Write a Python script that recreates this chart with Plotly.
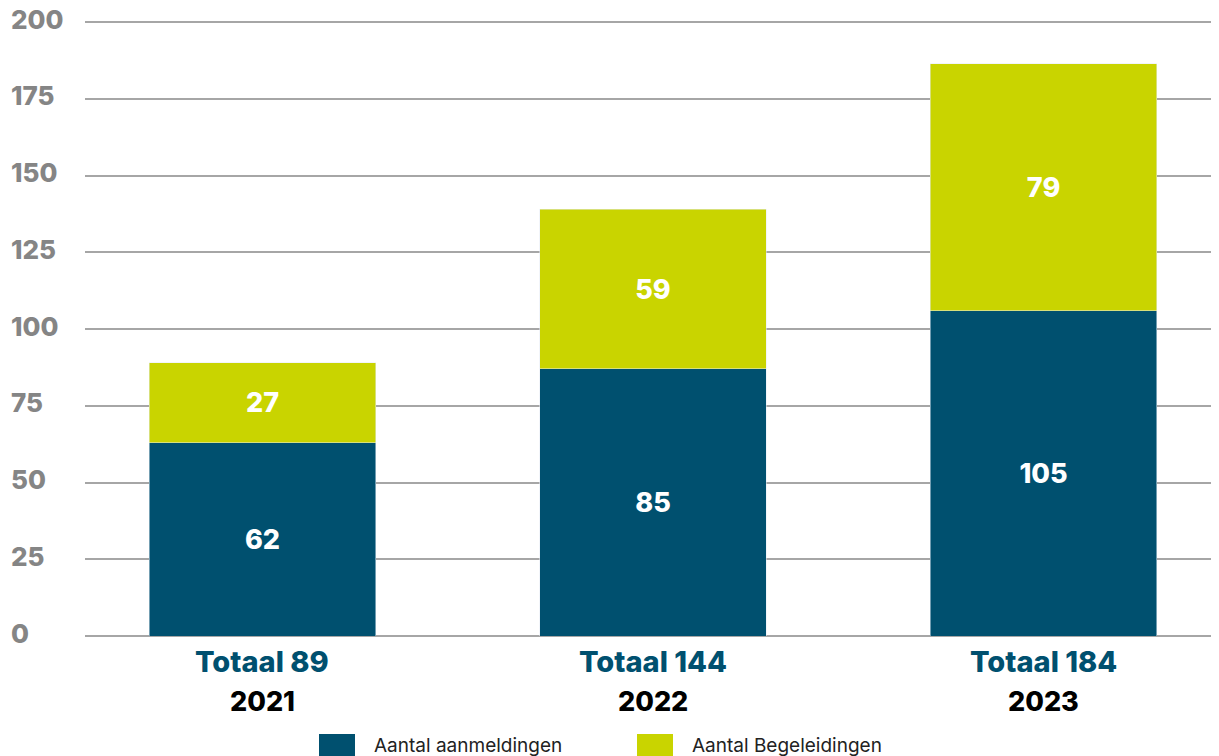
import plotly.graph_objects as go

# data
jaren = ["2021", "2022", "2023"]
aanmeldingen = [63, 87, 106]          # bar heights as drawn
begeleidingen = [26, 52, 80.5]
aanmeldingen_label = [62, 85, 105]    # printed values
begeleidingen_label = [27, 59, 79]
y_ticks = [0, 25, 50, 75, 100, 125, 150, 175, 200]
reeksen = ["Aantal aanmeldingen", "Aantal Begeleidingen"]

BLAUW = "#00506f"
GROEN = "#c9d400"
GRIJS = "#858585"
FONT = "Inter"

# page body has an 8px margin, so the figure is 8px smaller
OFF = 8
W, H = 1219 - OFF, 756 - OFF
L, R, T, B = 85 - OFF, 0, 19 - OFF, 120
pw, ph = W - L - R, H - T - B


def px_x(x):
    # window pixel -> paper
    return (x - OFF - L) / pw


def px_y(y):
    return (H - B - (y - OFF)) / ph


fig = go.Figure()
fig.add_trace(go.Bar(
    x=jaren, y=aanmeldingen, name=reeksen[0], marker_color=BLAUW,
    text=[str(v) for v in aanmeldingen_label], textposition="inside",
    insidetextanchor="middle",
    textfont=dict(family=FONT, size=27, color="white", weight=800),
    width=0.58, showlegend=False,
))
fig.add_trace(go.Bar(
    x=jaren, y=begeleidingen, name=reeksen[1], marker_color=GROEN,
    text=[str(v) for v in begeleidingen_label], textposition="inside",
    insidetextanchor="middle",
    textfont=dict(family=FONT, size=27, color="white", weight=800),
    width=0.58, showlegend=False,
))

annotations = []
# y-as labels (links uitgelijnd)
for t in y_ticks:
    annotations.append(dict(
        x=px_x(9), xref="paper", xanchor="left", y=t, yref="y", yanchor="middle",
        yshift=3, text=str(t), showarrow=False,
        font=dict(family=FONT, size=26, color=GRIJS, weight=800),
    ))
# x-as labels: totaal + jaar
for i, (j, a, b) in enumerate(zip(jaren, aanmeldingen_label, begeleidingen_label)):
    annotations.append(dict(
        x=i, xref="x", y=px_y(661), yref="paper", yanchor="middle",
        text=f"Totaal {a + b}", showarrow=False,
        font=dict(family=FONT, size=29, color=BLAUW, weight=800),
    ))
    annotations.append(dict(
        x=i, xref="x", y=px_y(701), yref="paper", yanchor="middle",
        text=j, showarrow=False,
        font=dict(family=FONT, size=27, color="black", weight=800),
    ))

# legenda
shapes = []
for naam, kleur, x0 in zip(reeksen, [BLAUW, GROEN], [319, 637]):
    shapes.append(dict(
        type="rect", xref="paper", yref="paper",
        x0=px_x(x0), x1=px_x(x0 + 36), y0=px_y(734), y1=px_y(760),
        fillcolor=kleur, line_width=0,
    ))
    annotations.append(dict(
        x=px_x(x0 + 53), xref="paper", xanchor="left",
        y=px_y(745), yref="paper", yanchor="middle",
        text=naam, showarrow=False,
        font=dict(family=FONT, size=19, color="#222222"),
    ))

fig.update_layout(
    barmode="stack",
    width=W, height=H,
    margin=dict(l=L, r=R, t=T, b=B, pad=0),
    plot_bgcolor="white", paper_bgcolor="white",
    xaxis=dict(
        type="category", range=[-0.4545, 2.4494], showticklabels=False,
        showgrid=False, showline=False, zeroline=False, ticks="",
    ),
    yaxis=dict(
        range=[0, 201], tickvals=y_ticks, showticklabels=False,
        showgrid=True, gridcolor="#a6a6a6", gridwidth=2,
        zeroline=True, zerolinecolor="#a6a6a6", zerolinewidth=2,
        showline=False, ticks="",
    ),
    annotations=annotations,
    shapes=shapes,
)

fig.write_html("out.html")
